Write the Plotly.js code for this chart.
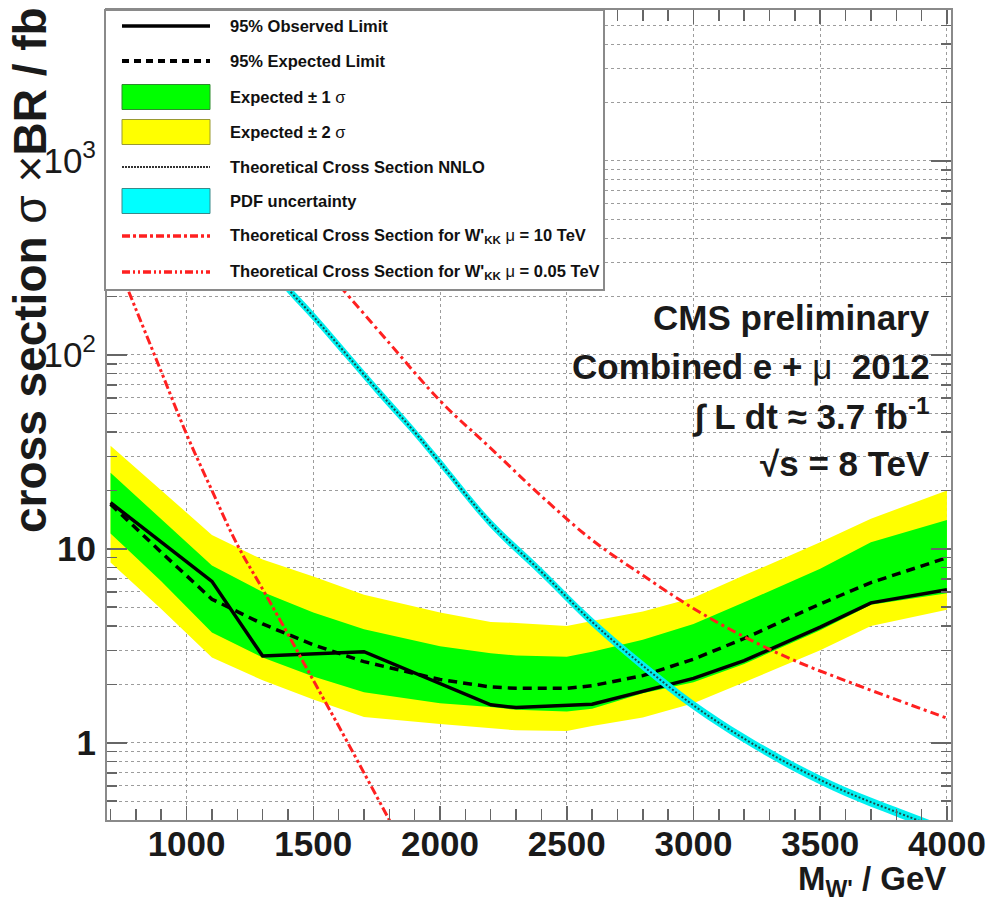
<!DOCTYPE html>
<html>
<head>
<meta charset="utf-8">
<script src="https://cdn.plot.ly/plotly-3.0.1.min.js"></script>
<style>html,body{margin:0;padding:0;background:#fff;}#chart{width:990px;height:906px;}</style>
</head>
<body>
<div id="chart"></div>
<script>
// ---------------- data ----------------
const massBand = [700, 900, 1100, 1300, 1500, 1700, 2000, 2200, 2300, 2500, 2600, 2800, 3000, 3200, 3500, 3700, 4000];
const expectedLimit = [17, 9.6, 5.5, 4.1, 3.2, 2.62, 2.12, 1.94, 1.91, 1.91, 1.97, 2.22, 2.7, 3.45, 5.2, 6.7, 9.0];
const sigma1Up = [24.7, 14.3, 8.2, 6.0, 4.7, 3.85, 3.15, 2.9, 2.82, 2.78, 2.95, 3.4, 4.1, 5.3, 7.9, 10.8, 14.1];
const sigma1Lo = [12, 6.8, 3.7, 2.75, 2.2, 1.82, 1.6, 1.53, 1.48, 1.45, 1.5, 1.8, 2.05, 2.55, 3.8, 5.15, 5.9];
const sigma2Up = [34, 20, 11.8, 8.8, 7.2, 5.8, 4.7, 4.2, 4.15, 4.0, 4.25, 4.75, 5.6, 7.3, 10.8, 14.3, 20];
const sigma2Lo = [8.5, 4.9, 2.75, 2.1, 1.67, 1.36, 1.25, 1.19, 1.16, 1.15, 1.22, 1.35, 1.6, 2.05, 3.0, 4.0, 4.85];

const massObs = [700, 1100, 1300, 1700, 2200, 2300, 2600, 2800, 3000, 3200, 3500, 3700, 4000];
const observedLimit = [17.3, 6.8, 2.8, 2.95, 1.57, 1.52, 1.58, 1.85, 2.15, 2.65, 3.95, 5.27, 6.15];

const massTheo = [1300, 1400, 1500, 1600, 1700, 1800, 1900, 2000, 2200, 2400, 2600, 2800, 3000, 3200, 3400, 3600, 3800, 4000];
const nnloXsec = [316, 219, 158, 112, 79, 56, 40, 27.8, 13.5, 7.6, 4.2, 2.5, 1.56, 1.05, 0.75, 0.56, 0.44, 0.35];
const pdfUp = [334, 231, 167, 118, 83, 59, 42, 29.3, 14.2, 8.0, 4.43, 2.64, 1.65, 1.11, 0.79, 0.59, 0.465, 0.37];
const pdfLo = [300, 208, 150, 106, 75, 53, 38, 26.4, 12.8, 7.2, 3.98, 2.37, 1.48, 1.0, 0.71, 0.53, 0.417, 0.33];

const massKK10 = [1500, 1600, 1800, 2000, 2200, 2400, 2600, 2800, 3000, 3200, 3400, 3600, 3800, 4000];
const xsecKK10 = [322, 230, 115, 58, 33, 18.7, 11.1, 7.3, 4.93, 3.52, 2.65, 2.09, 1.67, 1.34];

const massKK005 = [700, 800, 900, 1000, 1100, 1200, 1300, 1400, 1500, 1600, 1700, 1800, 1900];
const xsecKK005 = [360, 172, 82, 39, 20, 10.5, 6.2, 3.63, 2.1, 1.22, 0.70, 0.40, 0.23];

const yTickVals = [1, 10, 100, 1000];
const yTickText = ['<b>1</b>', '<b>10</b>', '10<sup>2</sup>', '10<sup>3</sup>'];

const legendLabels = [
  '95% Observed Limit',
  '95% Expected Limit',
  'Expected \u00b1 1 <span style="font-weight:normal">\u03c3</span>',
  'Expected \u00b1 2 <span style="font-weight:normal">\u03c3</span>',
  'Theoretical Cross Section NNLO',
  'PDF uncertainty',
  "Theoretical Cross Section for W'<sub>KK</sub> <span style=\"font-weight:normal\">\u03bc</span> = 10 TeV",
  "Theoretical Cross Section for W'<sub>KK</sub> <span style=\"font-weight:normal\">\u03bc</span> = 0.05 TeV"
];

const infoLines = [
  '<b>CMS preliminary</b>',
  '<b>Combined e + </b>\u03bc<b>  2012</b>',
  '<b>\u222b L dt \u2248 3.7 fb<sup>-1</sup></b>',
  '<b>\u221as = 8 TeV</b>'
];

// ---------------- styles ----------------
const RED = '#ff2020';
const GREEN = '#00ff00';
const YELLOW = '#ffff00';
const CYAN = '#00f0f0';
const FONT = 'Liberation Sans, Arial, Helvetica, sans-serif';

// plot-area geometry in pixels
const W = 990, H = 906;
const L = 107, R = 951, T = 10, B = 820;
const px = p => (p - L) / (R - L);
const py = p => (B - p) / (B - T);

const bandLine = {width: 0};
const traces = [
  {x: massBand, y: sigma2Lo, mode: 'lines', line: bandLine, showlegend: false, hoverinfo: 'skip'},
  {x: massBand, y: sigma2Up, mode: 'lines', line: bandLine, fill: 'tonexty', fillcolor: YELLOW, showlegend: false, hoverinfo: 'skip'},
  {x: massBand, y: sigma1Lo, mode: 'lines', line: bandLine, showlegend: false, hoverinfo: 'skip'},
  {x: massBand, y: sigma1Up, mode: 'lines', line: bandLine, fill: 'tonexty', fillcolor: GREEN, showlegend: false, hoverinfo: 'skip'},
  {x: massBand, y: expectedLimit, mode: 'lines', line: {color: '#000', width: 3.5, dash: '9px,6px'}, showlegend: false},
  {x: massObs, y: observedLimit, mode: 'lines', line: {color: '#000', width: 3.5}, showlegend: false},
  {x: massTheo, y: pdfLo, mode: 'lines', line: {width: 0, shape: 'spline'}, showlegend: false, hoverinfo: 'skip'},
  {x: massTheo, y: pdfUp, mode: 'lines', line: {width: 0, shape: 'spline'}, fill: 'tonexty', fillcolor: CYAN, showlegend: false, hoverinfo: 'skip'},
  {x: massTheo, y: nnloXsec, mode: 'lines', line: {color: '#1b4a4a', width: 2, dash: '2px,2px', shape: 'spline'}, showlegend: false},
  {x: massKK10, y: xsecKK10, mode: 'lines', line: {color: RED, width: 3, dash: '9px,4px,3px,4px', shape: 'spline'}, showlegend: false},
  {x: massKK005, y: xsecKK005, mode: 'lines', line: {color: RED, width: 3, dash: '9px,3px,3px,3px,3px,3px', shape: 'spline'}, showlegend: false}
];

// ---------------- manual legend (ROOT-style) ----------------
const shapes = [];
const annotations = [];
const legX0 = 105, legX1 = 604, legY0 = 10, legY1 = 290;
shapes.push({type: 'rect', xref: 'paper', yref: 'paper', layer: 'above',
  x0: px(legX0), x1: px(legX1), y0: py(legY1), y1: py(legY0),
  fillcolor: '#ffffff', line: {color: '#8a8a8a', width: 2}});
const rowY = [26, 61, 97, 132, 167, 201, 236, 272];
const symX0 = 122, symX1 = 210, textX = 228;
const symbolStyles = [
  {kind: 'line', color: '#000', width: 3.5, dash: 'solid'},
  {kind: 'line', color: '#000', width: 4, dash: '7px,5px'},
  {kind: 'rect', fill: GREEN, edge: '#2e8b2e'},
  {kind: 'rect', fill: YELLOW, edge: '#9a9a30'},
  {kind: 'line', color: '#333', width: 2, dash: '2px,1px'},
  {kind: 'rect', fill: '#00ffff', edge: '#3a8a8a'},
  {kind: 'line', color: RED, width: 3.5, dash: '8px,3px,3px,3px'},
  {kind: 'line', color: RED, width: 3.5, dash: '8px,3px,2px,3px,2px,3px'}
];
legendLabels.forEach((lab, i) => {
  const s = symbolStyles[i];
  const yc = rowY[i];
  if (s.kind === 'line') {
    shapes.push({type: 'line', xref: 'paper', yref: 'paper', layer: 'above',
      x0: px(symX0), x1: px(symX1), y0: py(yc), y1: py(yc),
      line: {color: s.color, width: s.width, dash: s.dash}});
  } else {
    shapes.push({type: 'rect', xref: 'paper', yref: 'paper', layer: 'above',
      x0: px(symX0), x1: px(symX1), y0: py(yc + 12.5), y1: py(yc - 12.5),
      fillcolor: s.fill, line: {color: s.edge, width: 1}});
  }
  annotations.push({xref: 'paper', yref: 'paper', x: px(textX), y: py(yc),
    xanchor: 'left', yanchor: 'middle', showarrow: false, text: '<b>' + lab + '</b>',
    font: {family: FONT, size: 16.5, color: '#111'}});
});

// ---------------- info text block ----------------
const infoY = [318, 366, 414, 464];
infoLines.forEach((t, i) => {
  annotations.push({xref: 'paper', yref: 'paper', x: px(932), y: py(infoY[i]),
    xanchor: 'right', yanchor: 'middle', showarrow: false, text: t,
    font: {family: FONT, size: 35, color: '#1a1a1a'}});
});

// axis titles (ROOT style: right / top aligned)
annotations.push({xref: 'paper', yref: 'paper', x: px(30), y: py(270), xanchor: 'center', yanchor: 'middle',
  showarrow: false, textangle: -90,
  text: '<b>cross section</b> \u03c3 \u00d7<b>BR / fb</b>',
  font: {family: FONT, size: 46, color: '#1a1a1a'}});
annotations.push({xref: 'paper', yref: 'paper', x: px(948), y: py(881), xanchor: 'right', yanchor: 'middle',
  showarrow: false, text: "<b>M<sub>W'</sub> / GeV</b>",
  font: {family: FONT, size: 33, color: '#1a1a1a'}});

const gridColor = '#9c9c9c';
const layout = {
  width: W, height: H, autosize: false,
  margin: {l: L, r: W - R, t: T, b: H - B, pad: 0},
  paper_bgcolor: '#fff', plot_bgcolor: '#fff',
  font: {family: FONT, color: '#1a1a1a'},
  showlegend: false,
  xaxis: {
    type: 'linear', range: [686, 4016], autorange: false,
    tick0: 1000, dtick: 500,
    ticks: 'inside', ticklen: 14, tickwidth: 1.5, tickcolor: '#666',
    ticklabelstandoff: -8,
    showline: true, linecolor: '#8a8a8a', linewidth: 2, mirror: 'allticks',
    showgrid: true, gridcolor: gridColor, gridwidth: 1, griddash: '3px,3px',
    zeroline: false,
    tickfont: {family: FONT, size: 35, weight: 'bold', color: '#1a1a1a'},
    minor: {tick0: 700, dtick: 100, ticks: 'inside', ticklen: 11, tickwidth: 1.5, tickcolor: '#666', showgrid: false}
  },
  yaxis: {
    type: 'log', range: [Math.log10(0.4), Math.log10(6000)], autorange: false,
    tickmode: 'array', tickvals: yTickVals, ticktext: yTickText,
    ticks: 'inside', ticklen: 20, tickwidth: 1.5, tickcolor: '#666',
    ticklabelstandoff: 2,
    showline: true, linecolor: '#8a8a8a', linewidth: 2, mirror: 'allticks',
    showgrid: true, gridcolor: gridColor, gridwidth: 1, griddash: '3px,3px',
    zeroline: false,
    tickfont: {family: FONT, size: 35, color: '#1a1a1a'},
    minor: {dtick: 'D1', ticks: 'inside', ticklen: 10, tickwidth: 1.5, tickcolor: '#666',
      showgrid: true, gridcolor: gridColor, gridwidth: 1, griddash: '3px,3px'}
  },
  shapes: shapes,
  annotations: annotations
};

Plotly.newPlot('chart', traces, layout, {staticPlot: true, displayModeBar: false});
</script>
</body>
</html>
